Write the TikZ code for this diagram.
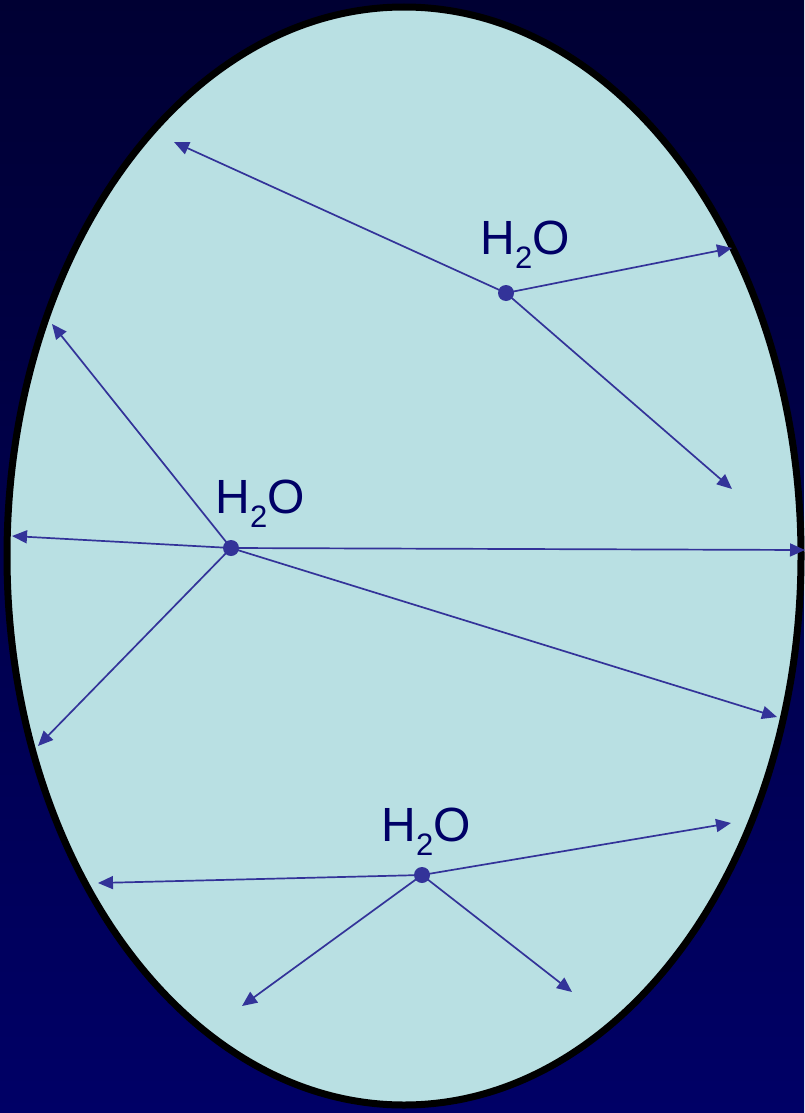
\documentclass[tikz,border=0pt]{standalone}
\usepackage{fontspec}
\setmainfont{Liberation Sans}
\usetikzlibrary{arrows.meta}
\definecolor{bgtop}{HTML}{000033}
\definecolor{bgbot}{HTML}{000066}
\definecolor{cellfill}{HTML}{B9E0E3}
\definecolor{arrowcol}{HTML}{333399}
\definecolor{txtcol}{HTML}{000066}
\newcommand{\water}{H\raisebox{-14pt}{\fontsize{31}{31}\selectfont 2}O}
\tikzset{
  mol/.style={circle,fill=arrowcol,inner sep=0pt,minimum size=16pt},
  path/.style={draw=arrowcol,line width=1.7pt,-{Triangle[length=15pt,width=13pt]}},
  lbl/.style={text=txtcol,font=\fontsize{48}{48}\selectfont,anchor=base,inner sep=0pt}
}
\begin{document}
\begin{tikzpicture}[x=1pt,y=-1pt]
\shade[top color=bgtop,bottom color=bgbot] (0,0) rectangle (804,1113);
\useasboundingbox (0,0) rectangle (804,1113);
\draw[fill=cellfill,line width=7pt,draw=black] (404,556) ellipse [x radius=397, y radius=549];
% molecule 1
\node[mol] (m1) at (506,293) {};
\coordinate (a1) at (174,142);
\coordinate (a2) at (732,248);
\coordinate (a3) at (732,489);
\draw[path] (m1.center) -- (a1);
\draw[path] (m1.center) -- (a2);
\draw[path] (m1.center) -- (a3);
\node[lbl] (l1) at (525,254) {\water};
% molecule 2
\node[mol] (m2) at (231,548) {};
\coordinate (b1) at (52,324);
\coordinate (b2) at (12,536);
\coordinate (b3) at (805,550);
\coordinate (b4) at (777,717);
\coordinate (b5) at (38,746);
\draw[path] (m2.center) -- (b1);
\draw[path] (m2.center) -- (b2);
\draw[path] (m2.center) -- (b3);
\draw[path] (m2.center) -- (b4);
\draw[path] (m2.center) -- (b5);
\node[lbl] (l2) at (260,513) {\water};
% molecule 3
\node[mol] (m3) at (422,875) {};
\coordinate (c1) at (98,883);
\coordinate (c2) at (731,823);
\coordinate (c3) at (242,1006);
\coordinate (c4) at (572,992);
\draw[path] (m3.center) -- (c1);
\draw[path] (m3.center) -- (c2);
\draw[path] (m3.center) -- (c3);
\draw[path] (m3.center) -- (c4);
\node[lbl] (l3) at (426,841) {\water};
\end{tikzpicture}
\end{document}
